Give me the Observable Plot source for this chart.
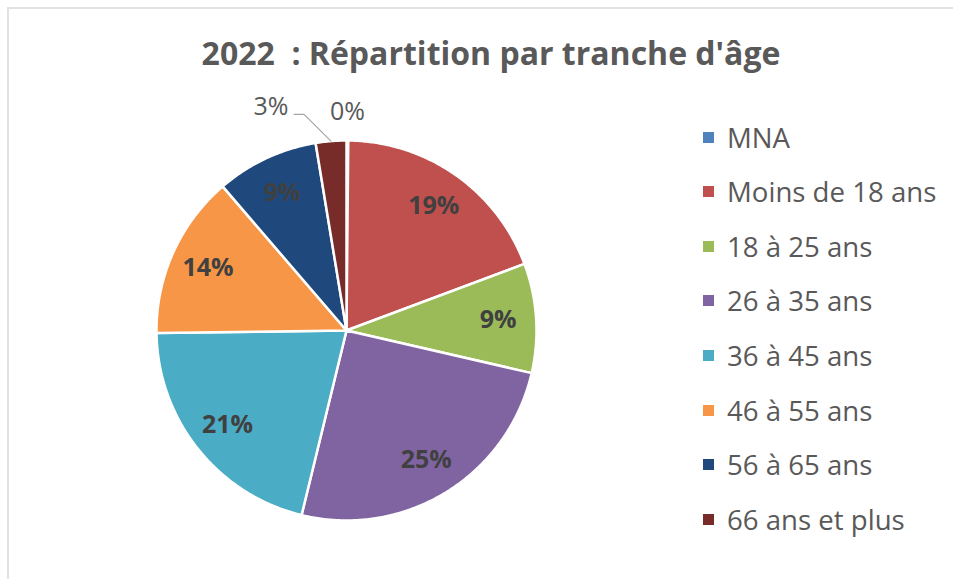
<!DOCTYPE html>
<html><head><meta charset="utf-8">
<script src="https://cdn.jsdelivr.net/npm/d3@7"></script>
<script src="https://cdn.jsdelivr.net/npm/@observablehq/plot@0.6"></script>
<style>
body{margin:0;background:#fff;}
#chart{position:relative;width:953px;height:579px;overflow:hidden;background:#fff;font-family:"Open Sans",sans-serif;}
#frame{position:absolute;left:7px;top:7px;width:2000px;height:2000px;border-top:2px solid #e2e2e2;border-left:2px solid #e2e2e2;pointer-events:none;}
#title{position:absolute;left:491px;top:36.6px;transform:translateX(-50%);white-space:pre;font-weight:700;font-size:32px;line-height:32px;color:#595959;}
#plot{position:absolute;left:0;top:0;}
.legend-row{position:absolute;left:703px;display:flex;align-items:center;height:27px;font-size:27.6px;line-height:27px;color:#595959;white-space:nowrap;}
.legend-row .sw{width:11px;height:11px;margin-right:13px;flex:none;}
</style></head>
<body>
<div id="chart"><div id="plot"></div><div id="title"></div><div id="legend"></div><div id="frame"></div></div>
<script>
// ---- data ----
const title = "2022  : Répartition par tranche d'âge";
const categories = ["MNA","Moins de 18 ans","18 à 25 ans","26 à 35 ans","36 à 45 ans","46 à 55 ans","56 à 65 ans","66 ans et plus"];
const shares = [0.15, 19.15, 9.3, 25.2, 21.0, 13.9, 8.7, 2.6];
const labels = ["0%","19%","9%","25%","21%","14%","9%","3%"];
const colors = ["#4F81BD","#C0504D","#9BBB59","#8064A2","#4BACC6","#F79646","#1F497D","#772C2A"];

// ---- layout/style constants ----
const W = 953, H = 579, CX = 346, CY = 330, R = 190;
const insideR = 0.8;
const outsideR = 1.15;
const outsideShiftDeg = {"66 ans et plus": -14};
const outsideRadius = {"66 ans et plus": 1.24};

const arcs = d3.pie().sort(null).value(d => d)(shares);
const pt = (a, r) => ({x: r * Math.sin(a), y: r * Math.cos(a)});

const sliceRows = [];
arcs.forEach((a, i) => {
  sliceRows.push({cat: categories[i], ...pt(0, 0)});
  const n = Math.max(2, Math.ceil((a.endAngle - a.startAngle) / (Math.PI / 360)));
  for (let k = 0; k <= n; k++) {
    const ang = a.startAngle + (a.endAngle - a.startAngle) * k / n;
    sliceRows.push({cat: categories[i], ...pt(ang, 1)});
  }
});

const insideRows = [], outsideRows = [], leaderRows = [];
arcs.forEach((a, i) => {
  const mid = (a.startAngle + a.endAngle) / 2;
  if (shares[i] >= 5) {
    insideRows.push({text: labels[i], ...pt(mid, insideR)});
  } else {
    const shift = (outsideShiftDeg[categories[i]] || 0) * Math.PI / 180;
    const r = outsideRadius[categories[i]] || outsideR;
    const p = pt(mid + shift, r);
    outsideRows.push({text: labels[i], ...p});
    if (shift !== 0) {
      const p0 = pt(mid, 1);
      const p1 = {x: p.x + 33 / R, y: p.y - 7 / R};
      const p2 = {x: p.x + 23 / R, y: p.y - 7 / R};
      leaderRows.push({id: i, ...p0}, {id: i, ...p1}, {id: i, ...p2});
    }
  }
});

const plot = Plot.plot({
  width: W, height: H,
  margin: 0,
  style: {background: "transparent"},
  x: {domain: [-CX / R, (W - CX) / R], axis: null},
  y: {domain: [-(H - CY) / R, CY / R], axis: null},
  color: {domain: categories, range: colors},
  marks: [
    Plot.line(sliceRows, {x: "x", y: "y", z: "cat", fill: "cat", stroke: "white", strokeWidth: 2.5, curve: "linear-closed"}),
    Plot.line(leaderRows, {x: "x", y: "y", z: "id", stroke: "#a6a6a6", strokeWidth: 1.2}),
    Plot.text(insideRows, {x: "x", y: "y", text: "text", fill: "#404040", fontSize: 25, fontWeight: "bold", fontFamily: "Open Sans"}),
    Plot.text(outsideRows, {x: "x", y: "y", text: "text", fill: "#595959", fontSize: 25, fontFamily: "Open Sans"})
  ]
});
document.getElementById("plot").appendChild(plot);
document.getElementById("title").textContent = title;

const leg = d3.select("#legend");
categories.forEach((c, i) => {
  const row = leg.append("div").attr("class", "legend-row").style("top", (123.7 + i * 54.57) + "px");
  row.append("div").attr("class", "sw").style("background", colors[i]);
  row.append("span").text(c);
});
</script>
</body></html>
